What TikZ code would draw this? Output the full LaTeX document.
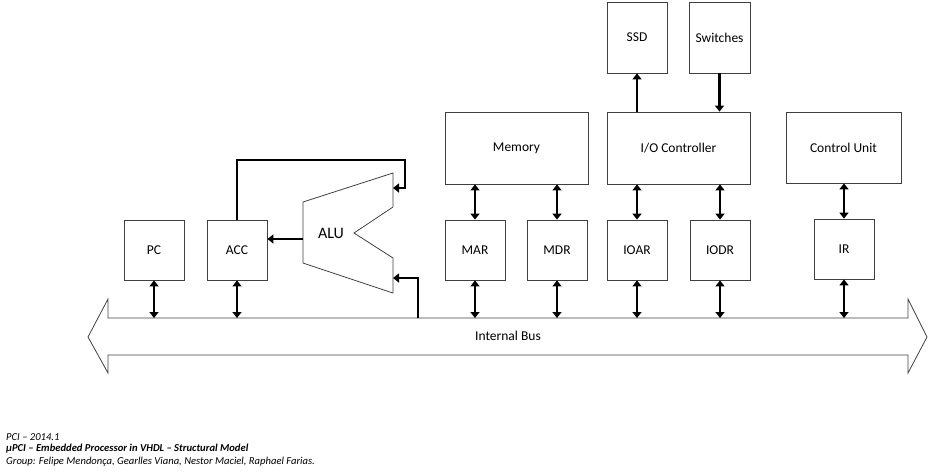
\documentclass[tikz,border=0pt]{standalone}
\usepackage{fontspec}
\setmainfont{Carlito}
\usetikzlibrary{arrows.meta, positioning}

\begin{document}
\begin{tikzpicture}[
    x=1pt, y=-1pt,
    >={Triangle[length=6pt,width=9pt]},
    font=\fontsize{13.5}{15}\selectfont,
    block/.style={rectangle, draw=black!75, line width=0.8pt, inner sep=0pt},
    reg/.style={block, minimum width=60pt, minimum height=60pt},
    unit/.style={block, minimum width=143pt, minimum height=72pt},
    dev/.style={block, minimum width=60pt, minimum height=71pt},
    link/.style={line width=2.4pt},
    footer/.style={anchor=west, inner sep=0pt, font=\fontsize{10.6}{12}\selectfont\itshape}
]
    \useasboundingbox (0,0) rectangle (929,475);

    % registers
    \node[reg] (PC)   at (154,250) {PC};
    \node[reg] (ACC)  at (237,250) {ACC};
    \node[reg] (MAR)  at (475,250) {MAR};
    \node[reg] (MDR)  at (557,250) {MDR};
    \node[reg] (IOAR) at (637,250) {IOAR};
    \node[reg] (IODR) at (720,250) {IODR};
    \node[reg] (IR)   at (844,249) {IR};

    % units
    \node[unit] (Memory) at (516.5,148) {Memory};
    \node[unit] (IOC)    at (678.5,148) {I/O Controller};
    \node[block, minimum width=115pt, minimum height=71pt] (CU) at (843.5,147.5) {Control Unit};
    \node[dev]  (SSD)      at (637,37.5)   {SSD};
    \node[dev, minimum width=61pt] (Switches) at (719.5,37.5) {Switches};

    % ALU
    \coordinate (aluA) at (303,202);
    \coordinate (aluB) at (393,173);
    \coordinate (aluC) at (393,207);
    \coordinate (aluD) at (354,233);
    \coordinate (aluE) at (393,258);
    \coordinate (aluF) at (393,293);
    \coordinate (aluG) at (303,263);
    \draw[draw=black!75, line width=0.8pt] (aluA) -- (aluB) -- (aluC) -- (aluD)
        -- (aluE) -- (aluF) -- (aluG) -- cycle;
    \node[font=\fontsize{16}{18}\selectfont] (ALU) at (331,233) {ALU};

    % internal bus
    \coordinate (busL)  at (88,337);
    \coordinate (busR)  at (927,337);
    \coordinate (bustop) at (0,318);
    \draw[draw=black!75, line width=0.8pt] (busL) -- (108,299) -- (108,318) -- (908,318)
        -- (908,299) -- (busR) -- (908,373) -- (908,355) -- (108,355) -- (108,373) -- cycle;
    \node (Bus) at (508,336) {Internal Bus};

    % bus links
    \foreach \r in {PC, ACC, MAR, MDR, IOAR, IODR, IR}
        \draw[link, <->] (\r.south) -- (\r.south |- bustop);

    % memory and I/O links
    \draw[link, <->] (Memory.south -| MAR) -- (MAR.north);
    \draw[link, <->] (Memory.south -| MDR) -- (MDR.north);
    \draw[link, <->] (IOC.south -| IOAR) -- (IOAR.north);
    \draw[link, <->] (IOC.south -| IODR) -- (IODR.north);
    \draw[link, <->] (CU.south -| IR) -- (IR.north);
    \draw[link, ->] (IOC.north -| SSD) -- (SSD.south);
    \draw[link, ->] (Switches.south) -- (Switches.south |- IOC.north);

    % ALU links
    \coordinate (aluout) at (303,239);
    \coordinate (aluin1) at (393,188);
    \coordinate (aluin2) at (393,278);
    \coordinate (fb)     at (405,160);
    \coordinate (busB)   at (418,318);
    \draw[link, ->] (aluout) -- (aluout -| ACC.east);
    \draw[link, ->] (ACC.north) |- (fb) |- (aluin1);
    \draw[link, ->] (busB) |- (aluin2);

    % footer
    \node[footer] (f1) at (6,437) {PCI -- 2014.1};
    \node[footer, font=\fontsize{10.6}{12}\selectfont\bfseries\itshape] (f2) at (6,449)
        {µPCI -- Embedded Processor in VHDL -- Structural Model};
    \node[footer] (f3) at (6,462) {Group: Felipe Mendonça, Gearlles Viana, Nestor Maciel, Raphael Farias.};
\end{tikzpicture}
\end{document}
